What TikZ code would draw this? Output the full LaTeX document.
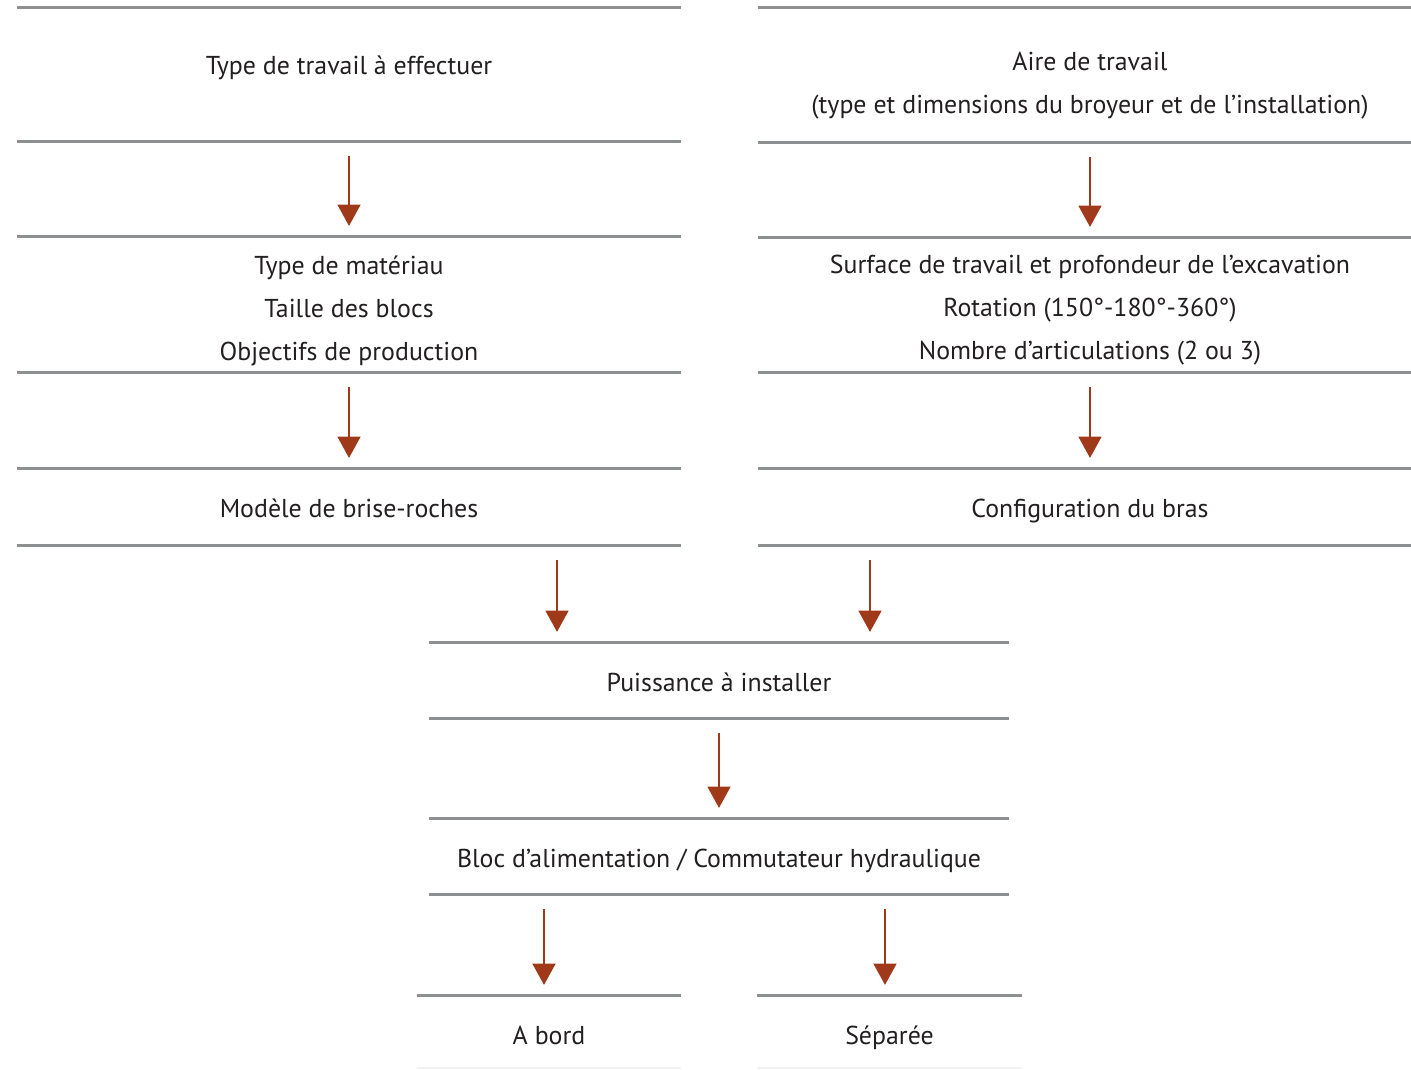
\documentclass[tikz,border=0pt]{standalone}
\usepackage{fontspec}
\setmainfont{PT Sans}
\usetikzlibrary{arrows.meta}

\definecolor{rulegray}{RGB}{141,143,145}
\definecolor{arrowred}{RGB}{160,57,26}
\definecolor{textgray}{RGB}{35,31,32}

\tikzset{every picture/.style={line width=0.55pt}}
\tikzset{
  frame/.style={minimum width=#1, inner sep=0pt},
  txt/.style={inner sep=0pt, align=center, text=textgray,
    font=\fontsize{19.4}{32.25}\selectfont},
  oneline/.style={txt, text height=14pt, text depth=4.5pt},
  rule/.style={draw=rulegray, line width=2pt},
  faintrule/.style={draw=rulegray!12, line width=1.5pt},
  down/.style={draw=arrowred, line width=2pt, -{Triangle[length=16pt,width=17pt]},
    shorten <=11pt, shorten >=8pt}
}

\begin{document}
\begin{tikzpicture}[x=0.75pt,y=0.75pt,yscale=-1,xscale=1]
            \useasboundingbox (0,0) rectangle (1411,1070);
            %Frames left column
            \node [frame=498pt, minimum height=99.75pt] (travail) at (349,74.5) {};
            \node [frame=498pt, minimum height=101.25pt] (materiau) at (349,304.5) {};
            \node [frame=498pt, minimum height=57pt] (modele) at (349,507) {};
            %Frames right column
            \node [frame=498pt, minimum height=100.5pt] (aire) at (1090,75) {};
            \node [frame=498pt, minimum height=100.5pt] (surface) at (1090,305) {};
            \node [frame=498pt, minimum height=57pt] (bras) at (1090,507) {};
            %Frames centre
            \node [frame=435pt, minimum height=56.25pt] (puissance) at (719,680.5) {};
            \node [frame=435pt, minimum height=56.25pt] (bloc) at (719,856.5) {};
            %Frames bottom
            \node [frame=198pt, minimum height=54pt] (abord) at (549,1032) {};
            \node [frame=198pt, minimum height=54pt] (separee) at (889.5,1032) {};
            %Rules
            \foreach \n in {travail,materiau,modele,aire,surface,bras,puissance,bloc}
              \draw [rule] (\n.north west) -- (\n.north east) (\n.south west) -- (\n.south east);
            \foreach \n in {abord,separee} {
              \draw [rule] (\n.north west) -- (\n.north east);
              \draw [faintrule] (\n.south west) -- (\n.south east);
            }
            % Text Nodes
            \node [oneline] (travail-t) at (349,68.2) {Type de travail à effectuer};
            \node [txt] (materiau-t) at (349,310.5) {Type de matériau\\Taille des blocs\\Objectifs de production};
            \node [oneline] (modele-t) at (349,511.2) {Modèle de brise-roches};
            \node [txt] (aire-t) at (1090,85.5) {Aire de travail\\(type et dimensions du broyeur et de l’installation)};
            \node [txt] (surface-t) at (1090,310.5) {Surface de travail et profondeur de l’excavation\\Rotation (150°-180°-360°)\\Nombre d’articulations (2 ou 3)};
            \node [oneline] (bras-t) at (1090,511.2) {Configuration du bras};
            \node [oneline] (puissance-t) at (719,685.2) {Puissance à installer};
            \node [oneline] (bloc-t) at (719,861.2) {Bloc d’alimentation / Commutateur hydraulique};
            \node [oneline] (abord-t) at (549,1038.2) {A bord};
            \node [oneline] (separee-t) at (889.5,1038.2) {Séparée};
            %Arrows
            \draw [down] (travail) -- (materiau);
            \draw [down] (materiau) -- (modele);
            \draw [down] (aire) -- (surface);
            \draw [down] (surface) -- (bras);
            \draw [down] (modele.south -| 557,0) -- (puissance.north -| 557,0);
            \draw [down] (bras.south -| 870,0) -- (puissance.north -| 870,0);
            \draw [down] (puissance) -- (bloc);
            \draw [down] (bloc.south -| 544,0) -- (abord.north -| 544,0);
            \draw [down] (bloc.south -| 885,0) -- (separee.north -| 885,0);
        \end{tikzpicture}
\end{document}
